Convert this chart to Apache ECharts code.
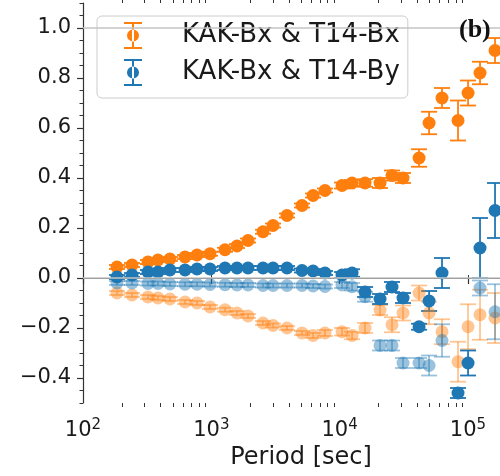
<!DOCTYPE html>
<html>
<head>
<meta charset="utf-8">
<script src="https://cdn.jsdelivr.net/npm/echarts@6/dist/echarts.min.js"></script>
<style>
  html, body { margin: 0; padding: 0; background: #fff; }
  #chart { width: 500px; height: 476px; }
</style>
</head>
<body>
<div id="chart"></div>
<script>
// period bins [sec]
const periods = [184, 241, 321, 384, 476, 624, 774, 977, 1279, 1585, 1932, 2529, 3027, 3890, 5093,
  6209, 7691, 10440, 12500, 15780, 20650, 25600, 31200, 41600, 49800, 62800, 83700, 100200, 124200, 162600];

// KAK-Bx & T14-Bx
const bxValues = [0.044, 0.052, 0.064, 0.072, 0.076, 0.084, 0.092, 0.097, 0.113, 0.128, 0.15, 0.185, 0.21, 0.25, 0.29,
  0.33, 0.35, 0.37, 0.38, 0.38, 0.38, 0.41, 0.40, 0.48, 0.62, 0.72, 0.63, 0.74, 0.82, 0.91];
const bxErrors = [0.008, 0.008, 0.008, 0.008, 0.008, 0.008, 0.008, 0.008, 0.008, 0.008, 0.008, 0.008, 0.008, 0.008, 0.008,
  0.008, 0.008, 0.012, 0.012, 0.015, 0.02, 0.02, 0.02, 0.035, 0.045, 0.04, 0.08, 0.05, 0.045, 0.05];

// KAK-Bx & T14-By
const byValues = [0.004, 0.012, 0.024, 0.024, 0.032, 0.032, 0.036, 0.036, 0.04, 0.04, 0.04, 0.04, 0.04, 0.04, 0.03,
  0.028, 0.02, 0.012, 0.02, -0.056, -0.084, -0.036, -0.08, -0.195, -0.092, 0.02, -0.46, -0.34, 0.12, 0.27];
const byErrors = [0.008, 0.008, 0.008, 0.008, 0.008, 0.008, 0.008, 0.008, 0.008, 0.008, 0.008, 0.008, 0.008, 0.008, 0.008,
  0.008, 0.008, 0.012, 0.015, 0.02, 0.02, 0.02, 0.02, 0.012, 0.04, 0.06, 0.02, 0.05, 0.12, 0.11];

// faded (second component) versions
const bxFadedValues = [-0.06, -0.068, -0.076, -0.08, -0.084, -0.096, -0.1, -0.116, -0.127, -0.14, -0.152, -0.18, -0.19, -0.2, -0.22,
  -0.23, -0.22, -0.215, -0.23, -0.2, -0.128, -0.187, -0.14, -0.06, -0.14, -0.215, -0.335, -0.195, -0.147, -0.16];
const bxFadedErrors = [0.008, 0.008, 0.008, 0.008, 0.008, 0.008, 0.008, 0.008, 0.008, 0.008, 0.008, 0.008, 0.008, 0.008, 0.008,
  0.01, 0.012, 0.015, 0.015, 0.02, 0.02, 0.03, 0.03, 0.03, 0.045, 0.05, 0.08, 0.09, 0.1, 0.1];

const byFadedValues = [-0.02, -0.02, -0.022, -0.022, -0.024, -0.025, -0.025, -0.026, -0.027, -0.028, -0.028, -0.03, -0.03, -0.03, -0.03,
  -0.032, -0.034, -0.028, -0.035, -0.075, -0.27, -0.27, -0.34, -0.34, -0.35, -0.25, null, null, -0.04, -0.135];
const byFadedErrors = [0.008, 0.008, 0.008, 0.008, 0.008, 0.008, 0.008, 0.008, 0.008, 0.008, 0.008, 0.008, 0.008, 0.008, 0.008,
  0.008, 0.008, 0.012, 0.015, 0.02, 0.02, 0.02, 0.02, 0.02, 0.04, 0.065, 0, 0, 0.03, 0.11];

const yTickValues = [-0.4, -0.2, 0.0, 0.2, 0.4, 0.6, 0.8, 1.0];
const xMinorTicks = [200, 300, 400, 500, 600, 700, 800, 900, 2000, 3000, 4000, 5000, 6000, 7000, 8000, 9000,
  20000, 30000, 40000, 50000, 60000, 70000, 80000, 90000, 200000];

const NAME_X = "KAK-Bx & T14-Bx";
const NAME_Y = "KAK-Bx & T14-By";
const ORANGE = "#ff7f0e";
const BLUE = "#1f77b4";
const FONT = '"DejaVu Sans", sans-serif';
const TEXT = "#1a1a1a";
const AXIS = "#333333";
const Y_MIN = -0.5, Y_MAX = 1.1;

const chart = echarts.init(document.getElementById("chart"));

function points(vals) {
  return periods.map((p, i) => (vals[i] == null ? null : [p, vals[i]])).filter(Boolean);
}

function bars(vals, errs) {
  return periods
    .map((p, i) => (vals[i] == null ? null : [p, vals[i] - errs[i], vals[i] + errs[i]]))
    .filter(Boolean);
}

function errorBarSeries(vals, errs, color, opacity) {
  return {
    type: "custom",
    silent: true,
    data: bars(vals, errs),
    encode: { x: 0, y: [1, 2] },
    renderItem: (params, api) => {
      const top = api.coord([api.value(0), api.value(2)]);
      const bot = api.coord([api.value(0), api.value(1)]);
      const cap = 8;
      const st = () => ({ stroke: color, lineWidth: 1.8, opacity });
      return {
        type: "group",
        children: [
          { type: "line", shape: { x1: top[0], y1: top[1], x2: bot[0], y2: bot[1] }, style: st() },
          { type: "line", shape: { x1: top[0] - cap, y1: top[1], x2: top[0] + cap, y2: top[1] }, style: st() },
          { type: "line", shape: { x1: bot[0] - cap, y1: bot[1], x2: bot[0] + cap, y2: bot[1] }, style: st() },
        ],
      };
    },
  };
}

function pointSeries(name, vals, color, opacity) {
  return {
    name,
    type: "scatter",
    symbol: "circle",
    symbolSize: 13,
    silent: true,
    data: points(vals),
    itemStyle: { color, opacity },
  };
}

const faded = pointSeries("faded Bx", bxFadedValues, ORANGE, 0.45);
// the grey reference lines at 0 and 1
faded.markLine = {
  silent: true,
  symbol: "none",
  label: { show: false },
  lineStyle: { color: "#c4c4c4", width: 1.5, type: "solid" },
  data: [{ yAxis: 0 }, { yAxis: 1 }],
  animation: false,
};

const panelLabel = {
  type: "text",
  left: 459,
  top: 17,
  z: 100,
  style: { text: "(b)", font: 'bold 26px "Liberation Serif", "DejaVu Serif", serif', fill: "#111" },
};

const option = {
  animation: false,
  backgroundColor: "#fff",
  grid: { left: 83, right: -19, top: 3, bottom: 73, outerBoundsMode: "none" },
  legend: {
    data: [NAME_X, NAME_Y],
    orient: "vertical",
    left: 97,
    top: 16,
    padding: [6, 8, 12, 27],
    itemWidth: 18,
    itemHeight: 27,
    itemGap: 10,
    icon: "path://M0,0h18v2h-18z M8,0h2v27h-2z M0,25h18v2h-18z M3,13.5a6,6 0 1,0 12,0a6,6 0 1,0 -12,0z",
    textStyle: { fontFamily: FONT, fontSize: 26, color: TEXT, padding: [0, 0, 0, 35] },
    borderColor: "#cccccc",
    borderWidth: 1,
    borderRadius: 5,
    backgroundColor: "rgba(255,255,255,0.8)",
  },
  xAxis: [
    {
      type: "log",
      min: 100,
      max: 250000,
      position: "bottom",
      name: "Period [sec]",
      nameLocation: "middle",
      nameGap: 42,
      nameTextStyle: { fontFamily: FONT, fontSize: 24, color: TEXT },
      splitLine: { show: false },
      axisLine: { lineStyle: { color: AXIS, width: 1.2 } },
      axisTick: { length: 6, lineStyle: { color: AXIS, width: 1.2 } },
      axisLabel: {
        margin: 15,
        formatter: (v) => {
          const e = Math.log10(v);
          if (Math.abs(e - Math.round(e)) > 1e-6) return "";
          return "{b|10}{s|" + Math.round(e) + "}";
        },
        rich: {
          b: { fontFamily: FONT, fontSize: 21, color: TEXT },
          s: { fontFamily: FONT, fontSize: 15, color: TEXT, padding: [0, 0, 10, 0] },
        },
      },
    },
    {
      // top spine
      type: "log",
      min: 100,
      max: 250000,
      position: "top",
      splitLine: { show: false },
      axisLine: { lineStyle: { color: AXIS, width: 1.2 } },
      axisTick: { length: 3, lineStyle: { color: AXIS, width: 1 } },
      axisLabel: { show: false },
    },
  ],
  yAxis: [
    {
      type: "value",
      min: Y_MIN,
      max: Y_MAX,
      splitLine: { show: false },
      axisLine: { show: true, lineStyle: { color: AXIS, width: 1.2 } },
      axisTick: { show: true, length: 6, customValues: yTickValues, lineStyle: { color: AXIS, width: 1.2 } },
      axisLabel: {
        customValues: yTickValues,
        margin: 12,
        fontFamily: FONT,
        fontSize: 21,
        color: TEXT,
        formatter: (v) => (v < 0 ? "\u2212" : "") + Math.abs(v).toFixed(1),
      },
    },
    {
      // minor ticks every 0.05
      type: "value",
      min: Y_MIN,
      max: Y_MAX,
      interval: 0.05,
      position: "left",
      splitLine: { show: false },
      axisLine: { show: false },
      axisTick: { show: true, length: 3.5, lineStyle: { color: AXIS, width: 1 } },
      axisLabel: { show: false },
    },
  ],
  graphic: [panelLabel],
  series: [
    faded,
    errorBarSeries(bxFadedValues, bxFadedErrors, ORANGE, 0.45),
    errorBarSeries(byFadedValues, byFadedErrors, BLUE, 0.45),
    pointSeries("faded By", byFadedValues, BLUE, 0.45),
    errorBarSeries(bxValues, bxErrors, ORANGE, 1),
    pointSeries(NAME_X, bxValues, ORANGE, 1),
    errorBarSeries(byValues, byErrors, BLUE, 1),
    pointSeries(NAME_Y, byValues, BLUE, 1),
  ],
};

chart.setOption(option);

// log minor ticks on bottom and top spines, placed with the axis scale
const minorMarks = [];
xMinorTicks.forEach((v) => {
  const b = chart.convertToPixel({ xAxisIndex: 0, yAxisIndex: 0 }, [v, Y_MIN]);
  const t = chart.convertToPixel({ xAxisIndex: 0, yAxisIndex: 0 }, [v, Y_MAX]);
  const x = Math.round(b[0]) + 0.5;
  minorMarks.push({ type: "line", shape: { x1: x, y1: b[1], x2: x, y2: b[1] + 4 }, style: { stroke: AXIS, lineWidth: 1 } });
  minorMarks.push({ type: "line", shape: { x1: x, y1: t[1], x2: x, y2: t[1] - 3 }, style: { stroke: AXIS, lineWidth: 1 } });
});
chart.setOption({ graphic: [panelLabel].concat(minorMarks) });
</script>
</body>
</html>
